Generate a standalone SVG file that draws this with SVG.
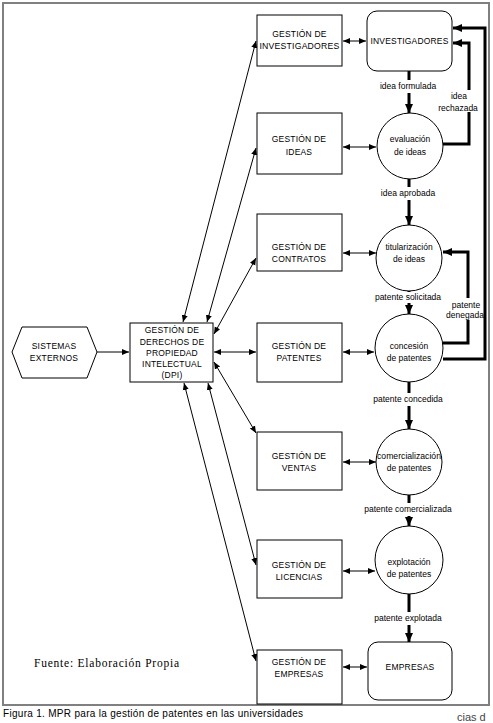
<svg xmlns="http://www.w3.org/2000/svg" width="493" height="723" viewBox="0 0 493 723">
<style>
.box{fill:#fff;stroke:#000;stroke-width:1}
.t{font-family:"Liberation Sans",Arial,sans-serif;font-size:8.5px;fill:#000;text-anchor:middle;letter-spacing:0.2px}
.l{font-family:"Liberation Sans",Arial,sans-serif;font-size:8.5px;fill:#000;text-anchor:middle}
.thin{fill:none;stroke:#000;stroke-width:1;marker-end:url(#a);marker-start:url(#a)}
.one{fill:none;stroke:#000;stroke-width:1;marker-end:url(#a)}
.thick{fill:none;stroke:#000;stroke-width:3}
.ta{marker-end:url(#b)}
</style>
<defs>
<marker id="a" markerUnits="userSpaceOnUse" markerWidth="8" markerHeight="8" viewBox="0 0 8 8" refX="7" refY="4" orient="auto-start-reverse">
<path d="M0,1 L7,4 L0,7 Z" fill="#000"/>
</marker>
<marker id="b" markerUnits="userSpaceOnUse" markerWidth="10" markerHeight="10" viewBox="0 0 10 10" refX="9" refY="5" orient="auto">
<path d="M0,1 L9,5 L0,9 Z" fill="#000"/>
</marker>
</defs>
<rect x="0" y="0" width="493" height="723" fill="#fff"/>
<rect x="3" y="3" width="486" height="702" fill="none" stroke="#808080" stroke-width="2"/>

<g id="connectors">
<line class="thin" x1="183" y1="322" x2="256" y2="41"/>
<line class="thin" x1="207" y1="322" x2="256" y2="148"/>
<line class="thin" x1="214" y1="334" x2="256" y2="258"/>
<line class="one" x1="97" y1="352" x2="129" y2="352"/>
<line class="thin" x1="214" y1="352" x2="256" y2="352"/>
<line class="thin" x1="214" y1="362" x2="256" y2="433"/>
<line class="thin" x1="208" y1="383" x2="256" y2="565"/>
<line class="thin" x1="184" y1="383" x2="256" y2="661"/>

<line class="thin" x1="343" y1="41" x2="366" y2="41"/>
<line class="thin" x1="343" y1="147" x2="376" y2="147"/>
<line class="thin" x1="343" y1="253" x2="376" y2="253"/>
<line class="thin" x1="343" y1="352" x2="374" y2="352"/>
<line class="thin" x1="343" y1="462" x2="376" y2="462"/>
<line class="thin" x1="343" y1="571" x2="375" y2="571"/>
<line class="thin" x1="343" y1="667" x2="367" y2="667"/>

<line class="thick" x1="409" y1="71" x2="409" y2="80"/>
<line class="thick ta" x1="409" y1="93" x2="409" y2="113"/>
<line class="thick" x1="409" y1="179" x2="409" y2="187"/>
<line class="thick ta" x1="409" y1="200" x2="409" y2="225"/>
<line class="thick" x1="409" y1="291" x2="409" y2="292"/>
<line class="thick ta" x1="409" y1="303" x2="409" y2="314"/>
<line class="thick" x1="409" y1="382" x2="409" y2="393"/>
<line class="thick ta" x1="409" y1="406" x2="409" y2="429"/>
<line class="thick" x1="409" y1="495" x2="409" y2="503"/>
<line class="thick ta" x1="409" y1="516" x2="409" y2="526"/>
<line class="thick" x1="409" y1="594" x2="409" y2="612"/>
<line class="thick ta" x1="409" y1="625" x2="409" y2="642"/>

<polyline class="thick ta" points="443,144 469,144 469,43 453,43"/>
<polyline class="thick ta" points="442,343 468,343 468,252 443,252"/>
<polyline class="thick ta" points="443,359 485,359 485,28 453,28"/>

<rect x="445" y="90" width="26" height="22" fill="#fff"/>
<rect x="450" y="298" width="22" height="22" fill="#fff"/>
<text class="l" x="408" y="89">idea formulada</text>
<text class="l" x="408" y="196">idea aprobada</text>
<text class="l" x="408" y="300">patente solicitada</text>
<text class="l" x="408" y="402">patente concedida</text>
<text class="l" x="408" y="512">patente comercializada</text>
<text class="l" x="408" y="621">patente explotada</text>
<text class="l" x="459" y="99">idea</text>
<text class="l" x="458" y="111">rechazada</text>
<text class="l" x="466" y="308">patente</text>
<text class="l" x="465" y="318">denegada</text>
</g>

<g id="sistemas">
<polygon class="box" points="12,352 22,327 87,327 97,352 87,378 22,378"/>
<text class="t" x="54" y="349">SISTEMAS</text>
<text class="t" x="54" y="361">EXTERNOS</text>
</g>
<g id="dpi">
<rect class="box" x="130" y="323" width="83" height="59"/>
<text class="t" x="172" y="333">GESTIÓN DE</text>
<text class="t" x="172" y="345">DERECHOS DE</text>
<text class="t" x="172" y="356">PROPIEDAD</text>
<text class="t" x="172" y="367">INTELECTUAL</text>
<text class="t" x="172" y="378">(DPI)</text>
</g>

<g id="g-investigadores">
<rect class="box" x="257" y="15" width="85" height="51"/>
<text class="t" x="299.5" y="37">GESTIÓN DE</text>
<text class="t" x="299.5" y="49" textLength="80" lengthAdjust="spacingAndGlyphs">INVESTIGADORES</text>
</g>
<g id="g-ideas">
<rect class="box" x="257" y="113" width="85" height="61"/>
<text class="t" x="299" y="142">GESTIÓN DE</text>
<text class="t" x="299" y="155">IDEAS</text>
</g>
<g id="g-contratos">
<rect class="box" x="257" y="214" width="85" height="57"/>
<text class="t" x="299" y="250">GESTIÓN DE</text>
<text class="t" x="299" y="262">CONTRATOS</text>
</g>
<g id="g-patentes">
<rect class="box" x="257" y="323" width="85" height="59"/>
<text class="t" x="299" y="349">GESTIÓN DE</text>
<text class="t" x="299" y="361">PATENTES</text>
</g>
<g id="g-ventas">
<rect class="box" x="257" y="432" width="85" height="58"/>
<text class="t" x="299" y="459">GESTIÓN DE</text>
<text class="t" x="299" y="471">VENTAS</text>
</g>
<g id="g-licencias">
<rect class="box" x="257" y="540" width="85" height="58"/>
<text class="t" x="299" y="568">GESTIÓN DE</text>
<text class="t" x="299" y="580">LICENCIAS</text>
</g>
<g id="g-empresas">
<rect class="box" x="257" y="650" width="85" height="54"/>
<text class="t" x="299" y="665">GESTIÓN DE</text>
<text class="t" x="299" y="677">EMPRESAS</text>
</g>

<g id="investigadores">
<rect class="box" x="367" y="11" width="85" height="60" rx="10"/>
<text class="t" x="409.5" y="44" textLength="78" lengthAdjust="spacingAndGlyphs">INVESTIGADORES</text>
</g>
<g id="evaluacion">
<circle class="box" cx="410" cy="146" r="33"/>
<text class="l" x="410" y="142">evaluación</text>
<text class="l" x="410" y="155">de ideas</text>
</g>
<g id="titularizacion">
<circle class="box" cx="409" cy="258" r="33"/>
<text class="l" x="409" y="250">titularización</text>
<text class="l" x="409" y="262">de ideas</text>
</g>
<g id="concesion">
<circle class="box" cx="409" cy="348" r="34"/>
<text class="l" x="409" y="349">concesión</text>
<text class="l" x="409" y="361">de patentes</text>
</g>
<g id="comercializacion">
<circle class="box" cx="409" cy="462" r="33"/>
<text class="l" x="409" y="459" textLength="64" lengthAdjust="spacingAndGlyphs">comercialización</text>
<text class="l" x="409" y="471">de patentes</text>
</g>
<g id="explotacion">
<circle class="box" cx="409" cy="560" r="34"/>
<text class="l" x="409" y="565">explotación</text>
<text class="l" x="409" y="577">de patentes</text>
</g>
<g id="empresas">
<rect class="box" x="368" y="642" width="84" height="58" rx="10"/>
<text class="t" x="410" y="670">EMPRESAS</text>
</g>

<text x="34" y="667" font-family="Liberation Serif,serif" font-size="11.5" fill="#000" textLength="145" lengthAdjust="spacing">Fuente: Elaboración Propia</text>
<text x="3" y="717" font-family="Liberation Sans,Arial,sans-serif" font-size="10" fill="#000" textLength="300" lengthAdjust="spacing">Figura 1. MPR para la gestión de patentes en las universidades</text>
<text x="457" y="721" font-family="Liberation Sans,Arial,sans-serif" font-size="11" fill="#444">cias  d</text>
</svg>
